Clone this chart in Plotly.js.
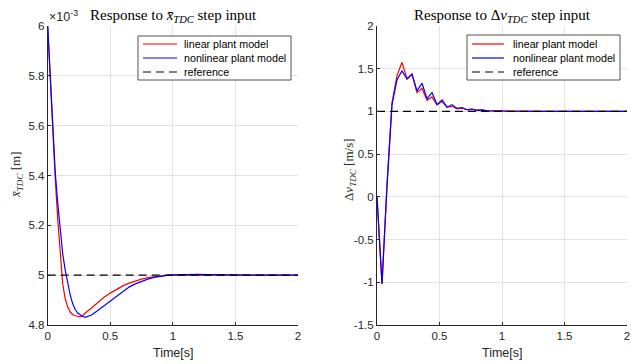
<!DOCTYPE html>
<html>
<head>
<meta charset="utf-8">
<script src="https://cdn.plot.ly/plotly-3.0.1.min.js"></script>
<style>
  html, body { margin: 0; padding: 0; background: #fff; }
  #chart { width: 631px; height: 364px; }
</style>
</head>
<body>
<div id="chart"></div>
<script>
// ---- Position response (values in units of 1e-3 m) ----
const tPos = [0, 0.02, 0.04, 0.06, 0.08, 0.10, 0.12, 0.14, 0.16, 0.18, 0.20, 0.22, 0.24, 0.26, 0.28, 0.30,
              0.35, 0.40, 0.45, 0.50, 0.55, 0.60, 0.65, 0.70, 0.75, 0.80, 0.85, 0.90, 0.95, 1.00,
              1.1, 1.2, 1.3, 1.4, 1.6, 1.8, 2.0];
const xbarLinear = [6.000, 5.790, 5.580, 5.390, 5.225, 5.085, 4.965, 4.905, 4.872, 4.852, 4.842, 4.837, 4.834, 4.833, 4.838, 4.848,
                    4.868, 4.891, 4.911, 4.928, 4.944, 4.957, 4.968, 4.977, 4.984, 4.990, 4.994, 4.997, 4.999, 5.000,
                    5.001, 5.001, 5.000, 5.000, 5.000, 5.000, 5.000];
const xbarNonlinear = [6.000, 5.800, 5.600, 5.415, 5.290, 5.180, 5.085, 5.020, 4.965, 4.920, 4.885, 4.862, 4.848, 4.839, 4.834, 4.831,
                       4.840, 4.858, 4.877, 4.895, 4.916, 4.935, 4.952, 4.965, 4.975, 4.984, 4.991, 4.996, 4.999, 5.001,
                       5.003, 5.003, 5.002, 5.001, 5.000, 5.000, 5.000];
const xbarRef = [5, 5];

// ---- Velocity response (m/s), sampled every 0.04 s ----
const tVel = [0, 0.04, 0.08, 0.12, 0.16, 0.20, 0.24, 0.28, 0.32, 0.36, 0.40, 0.44, 0.48, 0.52, 0.56, 0.60,
              0.64, 0.68, 0.72, 0.76, 0.80, 0.84, 0.88, 0.92, 0.96, 1.00, 1.04, 1.08, 1.12, 1.16, 1.20,
              1.24, 1.28, 1.32, 1.36, 1.40, 1.44, 1.48, 1.52, 1.56, 1.60, 1.64, 1.68, 1.72, 1.76, 1.80,
              1.84, 1.88, 1.92, 1.96, 2.00];
const dvLinear = [0, -1.02, 0.15, 1.10, 1.42, 1.575, 1.38, 1.43, 1.22, 1.27, 1.13, 1.17, 1.075, 1.115, 1.05, 1.06,
                  1.03, 1.04, 1.02, 1.025, 1.015, 1.02, 1.008, 1.01, 1.005, 1.006, 1.003, 1.004, 1.002, 1.003, 1.001,
                  1.002, 1.001, 1.001, 1.000, 1.001, 1.000, 1.000, 1.000, 1.000, 1.000, 1.000, 1.000, 1.000, 1.000, 1.000,
                  1.000, 1.000, 1.000, 1.000, 1.000];
const dvNonlinear = [0, -1.02, 0.12, 1.08, 1.37, 1.475, 1.38, 1.44, 1.24, 1.33, 1.15, 1.22, 1.08, 1.135, 1.05, 1.08,
                     1.035, 1.045, 1.02, 1.028, 1.012, 1.015, 1.006, 1.008, 1.004, 1.005, 1.002, 1.003, 1.001, 1.002, 1.001,
                     1.001, 1.000, 1.001, 1.000, 1.000, 1.000, 1.000, 1.000, 1.000, 1.000, 1.000, 1.000, 1.000, 1.000, 1.000,
                     1.000, 1.000, 1.000, 1.000, 1.000];
const dvRef = [1, 1];
const tRef = [0, 2];

// ---- Tick labels ----
const timeTicks = [0, 0.5, 1, 1.5, 2];
const timeTickText = ['0', '0.5', '1', '1.5', '2'];
const posTicks = [4.8, 5.0, 5.2, 5.4, 5.6, 5.8, 6.0];
const posTickText = ['4.8', '5', '5.2', '5.4', '5.6', '5.8', '6'];
const velTicks = [-1.5, -1, -0.5, 0, 0.5, 1, 1.5, 2];
const velTickText = ['-1.5', '-1', '-0.5', '0', '0.5', '1', '1.5', '2'];

const legendNames = ['linear plant model', 'nonlinear plant model', 'reference'];
const legendColors = ['#ff0000', '#0000ff', '#000000'];

// ---- Figure geometry (pixels) ----
const W = 631, H = 364;
const px = v => v / W;
const py = v => 1 - v / H;
const plotTop = 26, plotBottom = 325;
const left1 = 47.7, right1 = 298, left2 = 377, right2 = 627;

const ink = '#262626';
const sans = 'Liberation Sans, Arial, sans-serif';
const serif = 'Liberation Serif, Times New Roman, serif';
const lw = 1.2;
const refDash = '8px,5px';

const traces = [
  { x: tPos, y: xbarLinear, xaxis: 'x', yaxis: 'y', mode: 'lines', name: legendNames[0],
    line: { color: legendColors[0], width: lw } },
  { x: tPos, y: xbarNonlinear, xaxis: 'x', yaxis: 'y', mode: 'lines', name: legendNames[1],
    line: { color: legendColors[1], width: lw } },
  { x: tRef, y: xbarRef, xaxis: 'x', yaxis: 'y', mode: 'lines', name: legendNames[2],
    line: { color: legendColors[2], width: lw, dash: refDash } },
  { x: tVel, y: dvLinear, xaxis: 'x2', yaxis: 'y2', mode: 'lines', name: legendNames[0],
    line: { color: legendColors[0], width: lw } },
  { x: tVel, y: dvNonlinear, xaxis: 'x2', yaxis: 'y2', mode: 'lines', name: legendNames[1],
    line: { color: legendColors[1], width: lw } },
  { x: tRef, y: dvRef, xaxis: 'x2', yaxis: 'y2', mode: 'lines', name: legendNames[2],
    line: { color: legendColors[2], width: lw, dash: refDash } }
];

const axisBase = {
  showline: true, linecolor: ink, linewidth: 1, mirror: false,
  showgrid: true, gridcolor: '#e3e3e3', gridwidth: 1, zeroline: false,
  ticks: 'inside', ticklen: 3, tickcolor: ink, tickwidth: 1,
  tickfont: { family: sans, size: 11.5, color: ink },
  ticklabeloverflow: 'allow',
  tickmode: 'array', fixedrange: true
};

// Hand-placed legend boxes (one per panel)
function legendBox(x0, x1, y0, y1, lineX0, lineX1, textX, rowsY) {
  const shapes = [{
    type: 'rect', xref: 'paper', yref: 'paper',
    x0: px(x0), x1: px(x1), y0: py(y1), y1: py(y0),
    fillcolor: '#ffffff', line: { color: ink, width: 0.8 }, layer: 'above'
  }];
  const notes = [];
  rowsY.forEach((ry, i) => {
    shapes.push({
      type: 'line', xref: 'paper', yref: 'paper',
      x0: px(lineX0), x1: px(lineX1), y0: py(ry), y1: py(ry),
      line: { color: legendColors[i], width: lw, dash: i === 2 ? refDash : 'solid' }, layer: 'above'
    });
    notes.push({
      xref: 'paper', yref: 'paper', x: px(textX), y: py(ry),
      xanchor: 'left', yanchor: 'middle', showarrow: false,
      text: legendNames[i], font: { family: sans, size: 10.7, color: '#000' }
    });
  });
  return { shapes, notes };
}

const leg1 = legendBox(138, 291, 36, 80, 143, 177, 182, [44, 58, 72]);
const leg2 = legendBox(467, 620, 35, 80, 472, 504, 511, [44, 58, 72]);

const annotations = [
  { x: px(173), y: py(16), text: 'Response to <i>x̄</i><sub><i>TDC</i></sub> step input',
    font: { family: serif, size: 15, color: '#000' } },
  { x: px(502), y: py(16), text: 'Response to Δ<i>v</i><sub><i>TDC</i></sub> step input',
    font: { family: serif, size: 15, color: '#000' } },
  { x: px(47), y: py(16), xanchor: 'left', text: '×10<sup>-3</sup>',
    font: { family: sans, size: 12.5, color: ink } },
  { x: px(173), y: py(353), text: 'Time[s]', font: { family: sans, size: 12.5, color: ink } },
  { x: px(502), y: py(353), text: 'Time[s]', font: { family: sans, size: 12.5, color: ink } },
  { x: px(16), y: py(175), textangle: -90, text: '<i>x̄</i><sub><i>TDC</i></sub> [m]',
    font: { family: serif, size: 13, color: ink } },
  { x: px(349), y: py(170), textangle: -90, text: 'Δ<i>v</i><sub><i>TDC</i></sub> [m/s]',
    font: { family: serif, size: 13, color: ink } }
].map(a => Object.assign({ xref: 'paper', yref: 'paper', showarrow: false,
                           xanchor: 'center', yanchor: 'middle' }, a))
 .concat(leg1.notes, leg2.notes);

const layout = {
  width: W, height: H,
  margin: { l: 0, r: 0, t: 0, b: 0 },
  paper_bgcolor: '#ffffff', plot_bgcolor: '#ffffff',
  showlegend: false,
  xaxis: Object.assign({}, axisBase, { domain: [px(left1), px(right1)], range: [0, 2],
    tickvals: timeTicks, ticktext: timeTickText, anchor: 'y' }),
  yaxis: Object.assign({}, axisBase, { domain: [py(plotBottom), py(plotTop)], range: [4.8, 6],
    tickvals: posTicks, ticktext: posTickText, anchor: 'x' }),
  xaxis2: Object.assign({}, axisBase, { domain: [px(left2), px(right2)], range: [0, 2],
    tickvals: timeTicks, ticktext: timeTickText, anchor: 'y2' }),
  yaxis2: Object.assign({}, axisBase, { domain: [py(plotBottom), py(plotTop)], range: [-1.5, 2],
    tickvals: velTicks, ticktext: velTickText, anchor: 'x2' }),
  shapes: leg1.shapes.concat(leg2.shapes),
  annotations: annotations
};

Plotly.newPlot('chart', traces, layout, { displayModeBar: false, staticPlot: true }).then(gd => {
  // Keep the end-of-range time label on the right panel visible at the page edge
  gd.querySelectorAll('.xtick text, .x2tick text').forEach(t => {
    t.removeAttribute('display');
    t.style.display = '';
    t.style.opacity = 1;
  });
});
</script>
</body>
</html>
